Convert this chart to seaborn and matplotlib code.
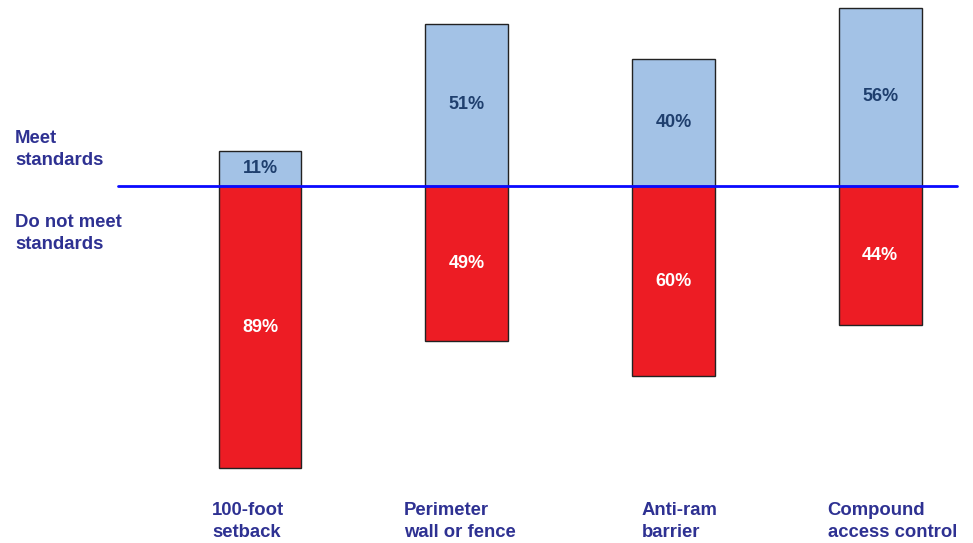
import numpy as np
import matplotlib
matplotlib.use("Agg")
import matplotlib.pyplot as plt
import seaborn as sns

# Data
categories = ["100-foot\nsetback", "Perimeter\nwall or fence", "Anti-ram\nbarrier", "Compound\naccess control"]
meet = [11, 51, 40, 56]
not_meet = [89, 49, 60, 44]

sns.set_style("white")
plt.rcParams["font.family"] = ["Liberation Sans", "DejaVu Sans"]

label_color = "#2e3192"
fig = plt.figure(figsize=(9.73, 5.43), dpi=100)
ax = fig.add_axes([0, 0, 1, 1])

idx = list(range(len(categories)))
sns.barplot(x=idx, y=meet, color="#a3c2e6", width=0.4, edgecolor="#222222",
            linewidth=1, saturation=1, ax=ax, native_scale=True)
sns.barplot(x=idx, y=[-v for v in not_meet], color="#ed1c24", width=0.4,
            edgecolor="#222222", linewidth=1, saturation=1, ax=ax, native_scale=True)

ax.set_xlim(-1.258, 3.449)
ax.set_ylim(-112.5, 58.5)
ax.axis("off")

# baseline
ax.axhline(0, xmin=0.121, xmax=0.984, color="#0a0aff", linewidth=2)

# value labels
for i, (m, n) in enumerate(zip(meet, not_meet)):
    ax.text(i, m / 2, f"{m}%", ha="center", va="center", fontsize=13,
            fontweight="bold", color="#1f3f6e")
    ax.text(i, -n / 2, f"{n}%", ha="center", va="center", fontsize=13,
            fontweight="bold", color="white")

# category labels (slightly shifted like the original slide)
label_dx = [-0.058, -0.034, 0.029, 0.058]
for i, c in enumerate(categories):
    ax.text(i + label_dx[i], -99.5, c, ha="center", va="top", multialignment="left",
            fontsize=13.3, fontweight="bold", color=label_color, linespacing=1.4)

# side labels
fig.text(15 / 973, 1 - 169 / 543, "Meet\nstandards", ha="left", va="bottom",
         fontsize=13.3, fontweight="bold", color=label_color, linespacing=1.4)
fig.text(15 / 973, 1 - 214 / 543, "Do not meet\nstandards", ha="left", va="top",
         fontsize=13.3, fontweight="bold", color=label_color, linespacing=1.4)

fig.savefig("out.png", dpi=100, facecolor="white")
